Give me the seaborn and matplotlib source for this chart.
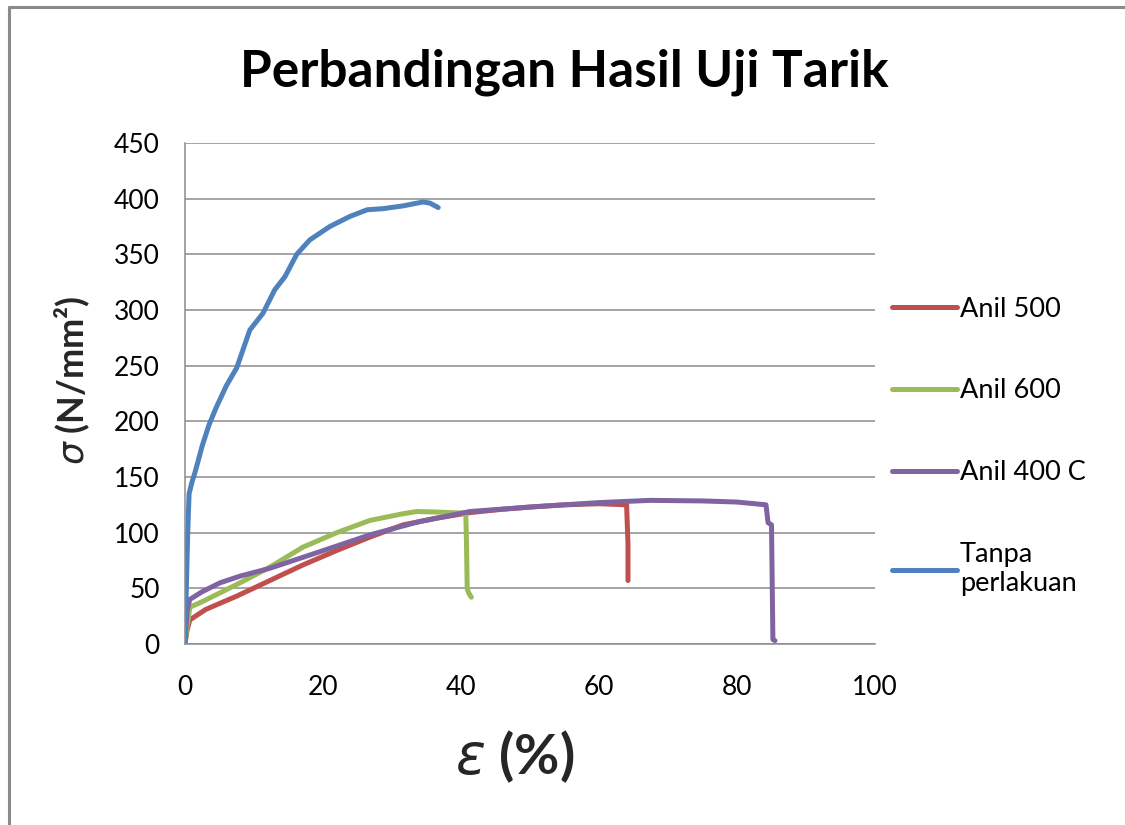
import numpy as np
import pandas as pd
import matplotlib
matplotlib.use("Agg")
import matplotlib.pyplot as plt
from matplotlib.lines import Line2D
import seaborn as sns

# strain (%) / stress (N/mm2)
anil500_x = [0, 0.3, 0.7, 3, 7.5, 12.3, 17.1, 22, 26.8, 31.6, 36.5, 41.3, 46, 50, 55, 60, 64, 64.2, 64.2]
anil500_y = [0, 12, 21.6, 31, 43, 57, 71, 84, 96, 107, 113, 118, 121, 123, 125, 126, 125, 90, 57]

anil600_x = [0, 0.3, 0.7, 2.5, 5.1, 8, 12.3, 17.1, 22, 26.8, 31.6, 33.6, 36.5, 40.7, 40.8, 40.9, 41.1, 41.5]
anil600_y = [0, 15, 33, 38, 46, 55, 69, 87, 100, 111, 117, 119, 118.5, 117.5, 90, 50, 46, 42]

anil400_x = [0, 0.3, 0.7, 2.5, 5.1, 8, 12.3, 19.6, 26.8, 34, 41.3, 50, 60, 67.4, 75, 80, 84.2, 84.5, 85.0, 85.2, 85.5]
anil400_y = [0, 30, 40, 47, 55, 61, 68, 83, 98, 110, 119, 123, 127, 129, 128.5, 127.5, 125, 109, 107, 4, 3]

tanpa_x = [0, 0.2, 0.4, 0.6, 1.0, 1.5, 2.5, 3.5, 4.5, 6, 7.5, 9.4, 11.3, 13, 14.5, 16.2, 18.1, 21, 23.9, 26.4, 28.7, 31.6, 34.5, 35.5, 36.7]
tanpa_y = [0, 50, 100, 135, 145, 155, 178, 197, 212, 232, 248, 282, 297, 318, 330, 350, 363, 375, 384, 390, 391, 393.5, 397, 396, 392]

labels = ["Anil 500", "Anil 600", "Anil 400 C", "Tanpa\nperlakuan"]
colors = ["#C0504D", "#9BBB59", "#8064A2", "#4F81BD"]

frames = []
for lab, xs, ys in zip(labels,
                       [anil500_x, anil600_x, anil400_x, tanpa_x],
                       [anil500_y, anil600_y, anil400_y, tanpa_y]):
    frames.append(pd.DataFrame({"strain": xs, "stress": ys, "series": lab}))
df = pd.concat(frames, ignore_index=True)

sns.set_style("white")
plt.rcParams["font.family"] = ["Lato", "DejaVu Sans"]
plt.rcParams["text.color"] = "black"

fig = plt.figure(figsize=(11.25, 8.25), dpi=100)
ax = fig.add_axes([0.1644, 0.2194, 0.6134, 0.6073])

for lab, col in zip(labels, colors):
    sub = df[df["series"] == lab]
    sns.lineplot(data=sub, x="strain", y="stress", sort=False, estimator=None,
                 color=col, linewidth=3.6, ax=ax, label=lab,
                 solid_capstyle="round", solid_joinstyle="round")

ax.set_xlim(0, 100)
ax.set_ylim(0, 450)
ax.set_xticks(np.arange(0, 101, 20))
ax.set_yticks(np.arange(0, 451, 50))
ax.tick_params(axis="both", labelsize=19, length=0, colors="black")
ax.tick_params(axis="y", pad=18)
ax.tick_params(axis="x", pad=22)
ax.yaxis.grid(True, color="#8c8c8c", linewidth=1.1)
ax.xaxis.grid(False)
for s in ["top", "right"]:
    ax.spines[s].set_visible(False)
for s in ["left", "bottom"]:
    ax.spines[s].set_color("#8c8c8c")
    ax.spines[s].set_linewidth(1.1)

ax.set_xlabel(r"$\varepsilon$ (%)", fontsize=40, fontweight="bold")
ax.set_ylabel(r"$\sigma$ (N/mm²)", fontsize=26, fontweight="bold")
ax.xaxis.set_label_coords(0.478, -0.168)
ax.yaxis.set_label_coords(-0.135, 0.527)

fig.text(0.502, 0.913, "Perbandingan Hasil Uji Tarik", ha="center", va="center",
         fontsize=37, fontweight="bold")

handles, lbls = ax.get_legend_handles_labels()
ax.get_legend().remove()
fig.legend(handles, lbls, loc="upper left", bbox_to_anchor=(0.771, 0.67),
           frameon=False, fontsize=19.5, handlelength=2.4, handletextpad=0.12,
           labelspacing=2.1)

# outer chart-area border
fig.add_artist(Line2D([0.008, 0.008], [0, 0.992], transform=fig.transFigure,
                      color="#8a8a8a", linewidth=2.2))
fig.add_artist(Line2D([0.008, 1.0], [0.992, 0.992], transform=fig.transFigure,
                      color="#8a8a8a", linewidth=2.2))

fig.savefig("out.png", dpi=100)
